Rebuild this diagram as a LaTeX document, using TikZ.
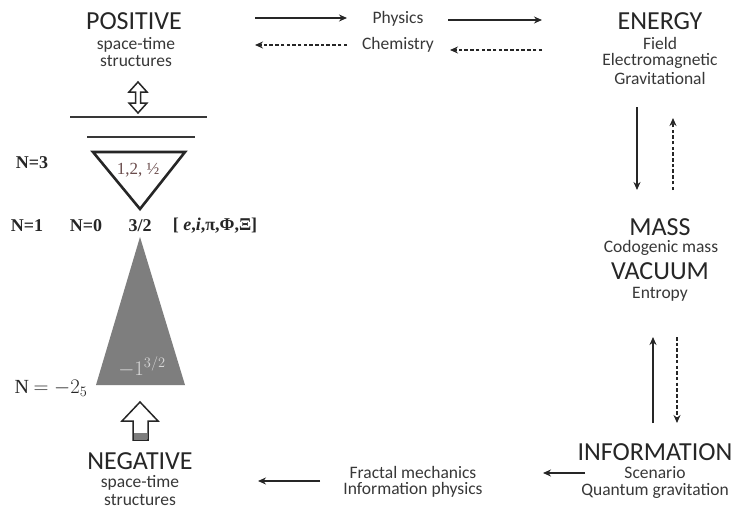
\documentclass[tikz,border=0pt]{standalone}
\usepackage{fontspec}
\setmainfont{Carlito}
\newfontfamily\serifrm{Liberation Serif}
\usetikzlibrary{arrows.meta}
\definecolor{ink}{HTML}{262626}
\definecolor{soft}{HTML}{383838}
\definecolor{wedge}{HTML}{7E7E7E}
\definecolor{rosy}{HTML}{6A4C4C}
\tikzset{
  title/.style={font=\fontsize{26}{28}\selectfont, text=ink, inner sep=0pt},
  sub/.style={font=\fontsize{17.5}{19}\selectfont, text=soft, inner sep=0pt},
  lvl/.style={font=\serifrm\bfseries\fontsize{18}{20}\selectfont, text=ink, inner sep=0pt},
  arr/.style={-{Stealth[length=8pt,width=7pt]}, line width=1.8pt, draw=ink},
  darr/.style={arr, dash pattern=on 3.5pt off 2.2pt},
  rule/.style={line width=1.3pt, draw=soft},
  hollow/.style={line width=1.5pt, draw=ink, fill=white, line join=miter},
}
\begin{document}
\begin{tikzpicture}[x=1pt,y=-1pt]
\useasboundingbox[fill=white] (0,0) rectangle (737,512);

% ---- corner labels ----
\node[title] (pos) at (134,21) {POSITIVE};
\node[sub] (pos1) at (136,45) {space-time};
\node[sub] (pos2) at (136,61) {structures};

\node[title] (en) at (660,21) {ENERGY};
\node[sub] (en1) at (660,43) {Field};
\node[sub] (en2) at (660,61) {Electromagnetic};
\node[sub] (en3) at (660,78) {Gravitational};

\node[title] (mass) at (660,227) {MASS};
\node[sub] (mass1) at (661,248) {Codogenic mass};
\node[title] (vac) at (660,271) {VACUUM};
\node[sub] (vac1) at (660,294) {Entropy};

\node[title] (info) at (655,452) {INFORMATION};
\node[sub] (info1) at (655,473) {Scenario};
\node[sub] (info2) at (655,491) {Quantum gravitation};

\node[title] (neg) at (140,461) {NEGATIVE};
\node[sub] (neg1) at (140,483) {space-time};
\node[sub] (neg2) at (140,500) {structures};

% ---- top channel ----
\node[sub] (phys) at (398,19) {Physics};
\node[sub] (chem) at (398,45) {Chemistry};
\coordinate (t1a) at (255,18); \coordinate (t1b) at (347,18);
\coordinate (t2a) at (448,20); \coordinate (t2b) at (542,20);
\coordinate (t3a) at (347,45); \coordinate (t3b) at (255,45);
\coordinate (t4a) at (542,50); \coordinate (t4b) at (450,50);
\draw[arr] (t1a) -- (t1b);
\draw[arr] (t2a) -- (t2b);
\draw[darr] (t3a) -- (t3b);
\draw[darr] (t4a) -- (t4b);

% ---- right column ----
\coordinate (r1a) at (637,107); \coordinate (r1b) at (637,190);
\coordinate (r2a) at (673,190); \coordinate (r2b) at (673,118);
\draw[arr] (r1a) -- (r1b);
\draw[darr] (r2a) -- (r2b);
\coordinate (r3a) at (653,423); \coordinate (r3b) at (653,337);
\coordinate (r4a) at (677,337); \coordinate (r4b) at (677,423);
\draw[arr] (r3a) -- (r3b);
\draw[darr] (r4a) -- (r4b);

% ---- bottom channel ----
\node[sub] (frac) at (413,472) {Fractal mechanics};
\node[sub] (infph) at (413,490) {Information physics};
\coordinate (b1a) at (585,473); \coordinate (b1b) at (543,473);
\coordinate (b2a) at (320,481); \coordinate (b2b) at (258,481);
\draw[arr] (b1a) -- (b1b);
\draw[arr] (b2a) -- (b2b);

% ---- left column: hollow double arrow and rules ----
\draw[hollow] (138,82) -- (147,92) -- (140.5,92) -- (140.5,103) -- (147,103) -- (138,113)
  -- (129,103) -- (135.5,103) -- (135.5,92) -- (129,92) -- cycle;
\draw[rule] (70,117) -- (207,117);
\draw[rule] (87,137) -- (195,137);

% inverted triangle
\draw[line width=2.6pt, draw=ink, line join=miter] (93,152) -- (185,152) -- (140,209) -- cycle;
\node[font=\serifrm\fontsize{17}{19}\selectfont, text=rosy, inner sep=0pt] (tri) at (138,170) {1,2, ½};

% level labels
\node[lvl] (n3) at (32,163) {N=3};
\node[lvl] (n1) at (27,226) {N=1};
\node[lvl] (n0) at (86,226) {N=0};
\node[lvl] (half) at (140,226) {3/2};
\node[lvl] (consts) at (215,226) {[ \textit{e},\textit{i},π,Φ,Ξ]};

% grey wedge
\fill[wedge] (140,237) -- (185,385) -- (96,385) -- cycle;
\node[text=white!85!black, inner sep=0pt, font=\fontsize{21}{23}\selectfont] (wl) at (142,367) {$-1^{3/2}$};
\node[text=ink, inner sep=0pt, font=\fontsize{20}{22}\selectfont] (nm2) at (51,388) {{\serifrm N} $= -2_5$};

% hollow up arrow
\draw[hollow] (140,402) -- (158,421) -- (148,421) -- (148,440) -- (133,440) -- (133,421) -- (122,421) -- cycle;
\fill[wedge] (134,433) rectangle (147,439.5);
\end{tikzpicture}
\end{document}
